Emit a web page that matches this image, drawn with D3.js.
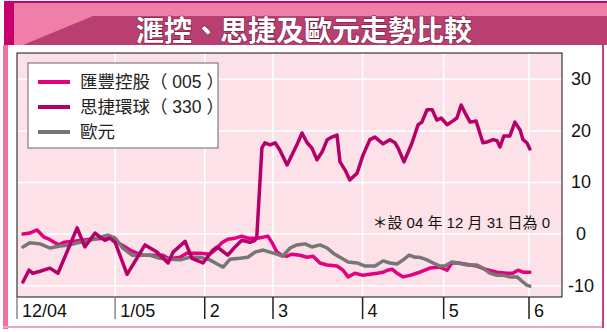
<!DOCTYPE html>
<html>
<head>
<meta charset="utf-8">
<script src="https://cdn.jsdelivr.net/npm/d3@7"></script>
<style>
  body { margin: 0; background: #fff; }
  svg { display: block; }
  text { font-family: "Liberation Sans", Arial, "Noto Sans CJK TC", sans-serif; }
  .cjk { font-family: "Liberation Sans", "Noto Sans CJK TC", sans-serif; }
</style>
</head>
<body>
<div id="chart"></div>
<script>
// values: [trading day index from 1 Dec 04, % change]
var hsbc = [[1.4,0],[3,0.2],[4.7,0.8],[5.4,0.2],[6.3,-0.6],[7.5,-1.0],[8.7,-1.6],[9.8,-2.1],[11,-1.6],[13.4,-1.4],
  [17.1,-1.0],[20.6,-0.8],[22.3,-0.8],[24.1,-1.9],[26.5,-3.1],[28.1,-3.7],[29.5,-4.1],[31.9,-4.1],[34.2,-4.1],
  [35.4,-4.7],[36.6,-4.7],[38.2,-4.5],[39.8,-3.7],[42.9,-3.7],[45.2,-3.9],[46.4,-3.1],[48,-1.7],[49.4,-1.0],
  [51.1,-0.8],[52.7,-0.4],[54.1,-0.8],[56.2,-0.8],[57.7,-0.6],[58.8,-0.4],[59.8,-1.7],[60.9,-3.5],[62.1,-4.1],
  [63.3,-4.3],[64.4,-3.9],[66.3,-4.1],[68,-4.5],[69.4,-4.3],[71,-5.6],[72.7,-6.0],[75,-6.2],[76.4,-7.0],
  [77.6,-8.3],[79.2,-7.6],[81.1,-8.0],[82.7,-7.8],[84.4,-7.6],[85.8,-7.4],[86.9,-7.0],[87.9,-6.8],[89.1,-7.6],
  [90.5,-8.3],[92.1,-8.0],[94.4,-7.4],[96.8,-6.6],[99.1,-6.4],[100.8,-7.0],[101.9,-5.6],[103.4,-5.6],[105,-5.8],
  [106.2,-6.0],[107.8,-6.2],[109.7,-6.8],[112.5,-7.4],[114.8,-7.6],[116.2,-7.6],[117.4,-7.0],[118.6,-7.4],[120.2,-7.4]];

var esprit = [[1.4,-9.3],[2.8,-7.0],[3.7,-7.6],[5.4,-7.2],[7.7,-6.6],[9.6,-7.6],[14.1,1.2],[15.9,-2.5],[18.3,0.2],
  [19.5,-0.6],[20.6,-1.2],[21.8,-0.8],[23,-1.6],[25.8,-7.8],[30,-2.1],[32.8,-3.5],[35.4,-5.6],[36.6,-3.5],
  [39.4,-1.4],[41,-4.7],[43.6,-5.6],[45.9,-3.1],[46.9,-2.5],[49.4,-4.1],[51.1,-2.5],[52.7,-1.2],[54.6,-1.6],
  [55.8,-1.2],[56.2,-0.6],[57.4,16.7],[58.1,17.7],[59.3,17.3],[60.5,17.7],[61.6,16.3],[63.3,13.4],[64.4,15.3],
  [65.6,17.3],[66.8,19.6],[68,17.7],[69.1,16.7],[70.3,14.4],[71.5,15.9],[72.7,18.3],[73.8,18.8],[75,19.2],
  [75.7,14.0],[76.9,12.4],[78,10.5],[79.7,11.8],[81.1,15.3],[82.7,18.3],[83.9,18.8],[85.8,17.5],[87.4,18.3],
  [88.6,17.7],[89.3,16.7],[90.7,14.0],[92.6,17.7],[94,21.2],[94.9,21.7],[96.1,24.1],[97.3,24.1],[98.4,22.1],
  [99.4,22.5],[100.8,21.2],[102.1,21.9],[103.1,22.5],[104.1,25.0],[105,23.5],[106.2,21.7],[107.6,21.9],
  [109.2,17.7],[110.4,17.9],[111.6,18.3],[112.5,18.1],[113.2,16.9],[114.1,19.0],[115.5,19.0],[116.7,21.7],
  [117.9,20.2],[118.6,18.3],[119.5,17.7],[120.2,16.5]];

var euro = [[1.4,-2.5],[3,-1.7],[5.4,-1.9],[7.7,-2.7],[10.1,-2.3],[12.4,-2.1],[14.8,-1.6],[17.1,-1.2],[19.5,-0.6],
  [21.3,-0.2],[23,-0.8],[24.8,-2.7],[27,-4.1],[28.8,-4.1],[31.2,-4.1],[33.5,-4.7],[35.9,-4.9],[38.2,-5.0],
  [40.5,-4.5],[42.9,-4.5],[45.2,-5.0],[46.9,-5.8],[48.3,-6.4],[49.9,-4.9],[52.3,-4.7],[54.1,-4.5],[55.8,-3.5],
  [57.7,-3.1],[59.3,-3.5],[60.9,-3.9],[62.3,-4.3],[64,-2.7],[65.6,-2.1],[67.5,-1.9],[69.1,-2.5],[71,-2.1],
  [72.7,-2.7],[74.1,-3.7],[75.7,-4.5],[77.6,-5.4],[79.7,-5.6],[81.6,-6.2],[83.9,-6.2],[85.8,-5.2],[87.4,-5.6],
  [89.1,-5.8],[90.5,-5.0],[91.9,-4.1],[93.3,-4.5],[94.4,-4.5],[96.1,-5.0],[97.5,-5.6],[99.1,-6.2],[100.3,-6.2],
  [101.9,-5.4],[103.4,-5.6],[105.5,-6.0],[107.8,-6.0],[109.2,-6.6],[110.9,-7.6],[112.5,-8.0],[113.9,-8.0],
  [115.5,-8.3],[117.2,-8.3],[118.3,-9.1],[119.5,-9.9],[120.2,-10.1]];

var monthTicks = [0, 23, 44, 60, 81, 100, 120];
var monthLabels = ["12/04", "1/05", "2", "3", "4", "5", "6"];
var yTicks = [30, 20, 10, 0, -10];
var seriesNames = ["匯豐控股（ 005 ）", "思捷環球（ 330 ）", "歐元"];
var title = "滙控、思捷及歐元走勢比較";
var note = "＊設 04 年 12 月 31 日為 0";

var width = 607, height = 332;
var plot = { left: 17, top: 53, right: 562, bottom: 297 };
var colors = ["#e4007f", "#b5006a", "#767676"];

var x = d3.scaleLinear().domain([0, 120]).range([plot.left, 529]);
var y = d3.scaleLinear().domain([-12.2, 35.1]).range([plot.bottom, plot.top]);

var svg = d3.select("#chart").append("svg")
    .attr("width", width)
    .attr("height", height);

// frame
svg.append("rect").attr("x", 14).attr("y", 1).attr("width", width - 14).attr("height", 2).attr("fill", "#c8006e");
svg.append("rect").attr("x", 14).attr("y", 3).attr("width", width - 14).attr("height", 13).attr("fill", "#f07fa8");
svg.append("rect").attr("x", 14).attr("y", 16).attr("width", width - 14).attr("height", 29).attr("fill", "#b83f70");
svg.append("polygon").attr("points", "14,16 93,16 23,45 14,45").attr("fill", "#f07fa8");
svg.append("rect").attr("x", 4).attr("y", 1).attr("width", 10).attr("height", 44).attr("fill", "#c8006e");
svg.append("rect").attr("x", 3).attr("y", 45).attr("width", 5).attr("height", 284).attr("fill", "#f070a0");
svg.append("rect").attr("x", 3).attr("y", 326).attr("width", 601).attr("height", 2).attr("fill", "#e8a8c4");
svg.append("rect").attr("x", 602).attr("y", 45).attr("width", 2).attr("height", 283).attr("fill", "#c8408a");

svg.append("text")
    .attr("class", "cjk")
    .attr("x", 304).attr("y", 41)
    .attr("text-anchor", "middle")
    .attr("font-size", 28).attr("font-weight", "bold")
    .attr("fill", "#fff")
    .attr("stroke", "#7a1a40").attr("stroke-width", 1.2).attr("paint-order", "stroke")
    .text(title);

// plot background + grid
svg.append("rect")
    .attr("x", plot.left).attr("y", plot.top)
    .attr("width", plot.right - plot.left).attr("height", plot.bottom - plot.top)
    .attr("fill", "#fde1e8");

svg.append("g").selectAll("line").data(yTicks).enter().append("line")
    .attr("x1", plot.left).attr("x2", plot.right)
    .attr("y1", d => y(d)).attr("y2", d => y(d))
    .attr("stroke", "#fff").attr("stroke-width", 1.5);

svg.append("g").selectAll("line").data(monthTicks.slice(1)).enter().append("line")
    .attr("x1", d => x(d)).attr("x2", d => x(d))
    .attr("y1", plot.top).attr("y2", plot.bottom)
    .attr("stroke", "#fff").attr("stroke-width", 1.5);

// lines
var line = d3.line().x(d => x(d[0])).y(d => y(d[1]));
[[hsbc, colors[0]], [euro, colors[2]], [esprit, colors[1]]].forEach(function (s) {
    svg.append("path").datum(s[0])
        .attr("d", line)
        .attr("fill", "none")
        .attr("stroke", s[1])
        .attr("stroke-width", 3.5)
        .attr("stroke-linejoin", "round")
        .attr("stroke-linecap", "round");
});

// border
svg.append("rect")
    .attr("x", plot.left).attr("y", plot.top)
    .attr("width", plot.right - plot.left).attr("height", plot.bottom - plot.top)
    .attr("fill", "none").attr("stroke", "#111").attr("stroke-width", 1);

// x ticks
var xt = svg.append("g").selectAll("g").data(monthTicks).enter().append("g");
xt.append("line")
    .attr("x1", d => x(d)).attr("x2", d => x(d))
    .attr("y1", plot.bottom).attr("y2", 319)
    .attr("stroke", (d, i) => i < 2 ? "#888" : "#222").attr("stroke-width", 1.5);
xt.append("text")
    .attr("x", d => x(d) + 5).attr("y", 317)
    .attr("font-size", 18).attr("fill", "#111")
    .text((d, i) => monthLabels[i]);

// y labels (right side)
svg.append("g").selectAll("text").data(yTicks).enter().append("text")
    .attr("x", 581).attr("y", d => y(d) + 6)
    .attr("text-anchor", "middle")
    .attr("font-size", 18).attr("fill", "#111")
    .text(d => d);

// note
svg.append("text")
    .attr("class", "cjk")
    .attr("x", 550).attr("y", 228)
    .attr("text-anchor", "end")
    .attr("font-size", 15).attr("fill", "#111")
    .text(note);

// legend
var lg = svg.append("g");
lg.append("rect")
    .attr("x", 28).attr("y", 63).attr("width", 190).attr("height", 85)
    .attr("fill", "#fff").attr("stroke", "#666").attr("stroke-width", 1);
seriesNames.forEach(function (name, i) {
    var ly = 82 + i * 25;
    lg.append("line")
        .attr("x1", 38).attr("x2", 70).attr("y1", ly).attr("y2", ly)
        .attr("stroke", colors[i]).attr("stroke-width", 4);
    lg.append("text")
        .attr("class", "cjk")
        .attr("x", 80).attr("y", ly + 6)
        .attr("font-size", 17.5).attr("fill", "#222")
        .text(name);
});
</script>
</body>
</html>
